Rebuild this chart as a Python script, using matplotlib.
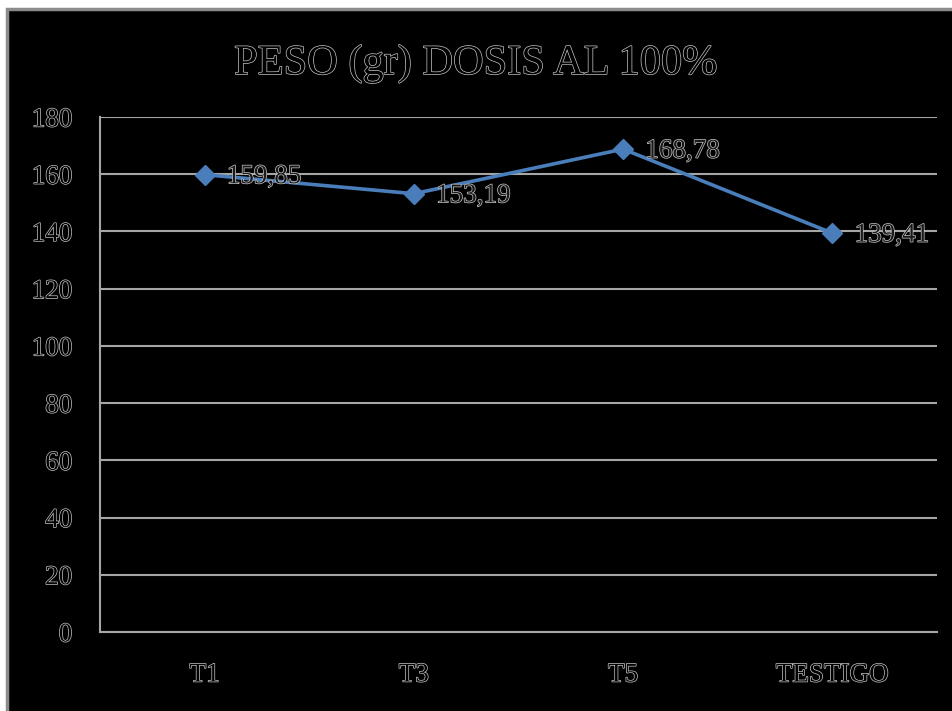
import matplotlib
matplotlib.use('Agg')
import matplotlib.pyplot as plt
import matplotlib.patheffects as pe
from matplotlib.patches import Rectangle

# Data
categories = ['T1', 'T3', 'T5', 'TESTIGO']
peso = [159.85, 153.19, 168.78, 139.41]
value_labels = ['159,85', '153,19', '168,78', '139,41']
y_ticks = [0, 20, 40, 60, 80, 100, 120, 140, 160, 180]

LINE_COLOR = '#4a7ebb'
GRID_COLOR = '#a6a6a6'
TEXT_EDGE = '#c8c8c8'

plt.rcParams['font.family'] = ['Liberation Serif', 'DejaVu Serif']

# hollow text look: black fill, light outline
hollow = [pe.withStroke(linewidth=1.0, foreground=TEXT_EDGE)]

fig = plt.figure(figsize=(9.53, 7.11), dpi=100, facecolor='white')

# black chart area with gray border on left/top
bg = Rectangle((7 / 953, -0.01), 1.0, (711 - 9) / 711 + 0.01, transform=fig.transFigure,
               facecolor='black', edgecolor='#8c8c8c', linewidth=2.5, zorder=-5)
fig.patches.append(bg)

ax = fig.add_axes([100 / 953, (711 - 632) / 711, (937 - 100) / 953, (632 - 117) / 711])
ax.set_facecolor('black')
ax.set_zorder(2)

x = list(range(len(categories)))
ax.plot(x, peso, color=LINE_COLOR, linewidth=2.6, marker='D', markersize=10,
        markerfacecolor=LINE_COLOR, markeredgecolor=LINE_COLOR, zorder=3)

for xi, yi, lab in zip(x, peso, value_labels):
    ax.annotate(lab, (xi, yi), xytext=(16, -1.5), textcoords='offset points',
                ha='left', va='center', fontsize=19.5, color='#1a1a1a',
                path_effects=hollow, zorder=4, annotation_clip=False)

ax.set_xlim(-0.5, len(categories) - 0.5)
ax.set_ylim(0, 180)
ax.set_yticks(y_ticks)
ax.set_xticks(x)
ax.set_xticklabels(categories)
ax.yaxis.grid(True, color=GRID_COLOR, linewidth=1.5)
ax.set_axisbelow(True)

for side in ['top', 'right']:
    ax.spines[side].set_visible(False)
for side in ['left', 'bottom']:
    ax.spines[side].set_color(GRID_COLOR)
    ax.spines[side].set_linewidth(1.5)

ax.tick_params(axis='both', length=0, labelsize=19.5)
ax.tick_params(axis='y', pad=20)
ax.tick_params(axis='x', pad=22)
for lbl in ax.get_xticklabels() + ax.get_yticklabels():
    lbl.set_color('black')
    lbl.set_path_effects(hollow)

fig.text(476 / 953, 1 - 74 / 711, 'PESO (gr) DOSIS AL 100%', ha='center', va='baseline',
         fontsize=30.5, color='black', path_effects=hollow, zorder=3)

plt.savefig('out.png', dpi=100, facecolor='white')
plt.close()
